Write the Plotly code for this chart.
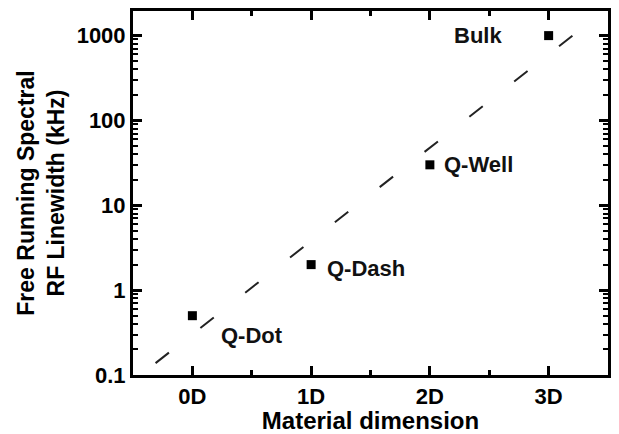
import math
import plotly.graph_objects as go

# data
dims = [0, 1, 2, 3]
dim_labels = ["0D", "1D", "2D", "3D"]
linewidth_khz = [0.5, 2.0, 30, 1000]
material_names = ["Q-Dot", "Q-Dash", "Q-Well", "Bulk"]

fit_x = [-0.31, 3.24]
fit_y = [0.138, 1100]

y_tickvals = [0.1, 1, 10, 100, 1000]
y_ticktext = ["0.1", "1", "10", "100", "1000"]
x_minor_vals = [0.5, 1.5, 2.5]
y_minor_vals = [m * 10 ** e for e in range(-1, 4) for m in range(2, 10)]

FONT = "Liberation Sans, Arial, sans-serif"
X_RANGE = [-0.5, 3.5]
Y_RANGE = [-1, 3.29]

fig = go.Figure()
# fit line on overlay axes x2/y2 (same ranges as the main axes)
fig.add_trace(go.Scatter(
    x=fit_x, y=fit_y, mode="lines", xaxis="x2", yaxis="y2",
    line=dict(color="#222", width=2, dash="17px,40px"),
    showlegend=False, hoverinfo="skip"))
# data points on overlay axes x3/y3 (same ranges as the main axes)
fig.add_trace(go.Scatter(
    x=dims, y=linewidth_khz, mode="markers", xaxis="x3", yaxis="y3",
    marker=dict(symbol="square", size=9, color="black"),
    showlegend=False))

# label placements (pixel shifts from the point)
label_pos = {
    "Q-Dot": dict(xs=27, ys=-20, xanchor="left"),
    "Q-Dash": dict(xs=14, ys=-4, xanchor="left"),
    "Q-Well": dict(xs=12, ys=0, xanchor="left"),
    "Bulk": dict(xs=-45, ys=0, xanchor="right"),
}
for x, y, name in zip(dims, linewidth_khz, material_names):
    p = label_pos[name]
    fig.add_annotation(x=x, y=math.log10(y), xref="x", yref="y",
                       text="<b>%s</b>" % name, showarrow=False,
                       xshift=p["xs"], yshift=p["ys"],
                       xanchor=p["xanchor"], yanchor="middle",
                       font=dict(family=FONT, size=22, color="#111"))

minor_x = dict(range=X_RANGE, tickmode="array", tickvals=x_minor_vals, showticklabels=False,
               ticks="inside", ticklen=5, tickwidth=2.5, tickcolor="black",
               showline=False, showgrid=False, zeroline=False)
minor_y = dict(type="log", range=Y_RANGE, tickmode="array", tickvals=y_minor_vals,
               showticklabels=False, ticks="inside", ticklen=5, tickwidth=2, tickcolor="black",
               showline=False, showgrid=False, zeroline=False)

fig.update_layout(
    width=619, height=434,
    margin=dict(l=133, r=11, t=8, b=59),
    paper_bgcolor="white", plot_bgcolor="white",
    font=dict(family=FONT, color="black"),
    showlegend=False,
    xaxis=dict(
        range=X_RANGE, tickvals=dims,
        ticktext=["<b>%s</b>" % t for t in dim_labels],
        tickfont=dict(family=FONT, size=22, color="black"),
        ticks="inside", ticklen=9, tickwidth=3, tickcolor="black",
        showline=True, linewidth=3, linecolor="black", mirror="allticks",
        showgrid=False, zeroline=False,
        title=dict(text="<b>Material dimension</b>", font=dict(family=FONT, size=24, color="black"), standoff=0),
    ),
    yaxis=dict(
        type="log", range=Y_RANGE,
        tickvals=y_tickvals, ticktext=["<b>%s</b>" % t for t in y_ticktext],
        tickfont=dict(family=FONT, size=22, color="black"),
        ticks="inside", ticklen=9, tickwidth=3, tickcolor="black",
        showline=True, linewidth=3, linecolor="black", mirror="allticks",
        showgrid=False, zeroline=False,
        title=dict(text="<b>Free Running Spectral<br>RF Linewidth (kHz)</b>",
                   font=dict(family=FONT, size=23, color="black"), standoff=6),
    ),
    # overlay axes carrying the minor ticks on each side of the frame
    xaxis2=dict(overlaying="x", anchor="y2", side="bottom", **minor_x),
    yaxis2=dict(overlaying="y", anchor="x2", side="left", **minor_y),
    xaxis3=dict(overlaying="x", anchor="y3", side="top", **minor_x),
    yaxis3=dict(overlaying="y", anchor="x3", side="right", **minor_y),
)

fig.write_html("out.html")
